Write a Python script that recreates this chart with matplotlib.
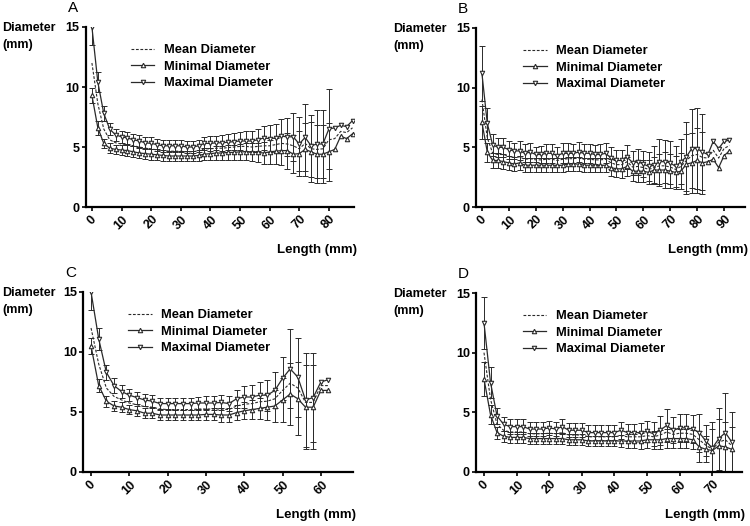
import numpy as np
import matplotlib.pyplot as plt

plt.rcParams['font.family'] = ['Liberation Sans', 'DejaVu Sans']

# ---------------------------------------------------------------------------
# DATA  (length in mm, diameters in mm)
# ---------------------------------------------------------------------------

# Panel A : 0..88 mm
A_len = np.arange(0, 89, 2)
A_mean = [12.0, 8.6, 6.5, 5.6, 5.35, 5.25, 5.2, 5.1, 5.0, 4.9, 4.85, 4.75, 4.7, 4.65, 4.65,
          4.65, 4.6, 4.6, 4.7, 4.85, 4.85, 4.9, 4.9, 4.95, 5.0, 5.05, 5.05, 5.0, 5.05, 5.1,
          5.1, 5.2, 5.3, 5.25, 5.1, 4.85, 5.3, 4.85, 4.8, 4.85, 5.6, 5.7, 6.3, 6.2, 6.6]
A_min = [9.3, 6.6, 5.3, 4.9, 4.8, 4.75, 4.7, 4.6, 4.5, 4.45, 4.4, 4.35, 4.3, 4.25, 4.25,
         4.25, 4.25, 4.25, 4.3, 4.4, 4.45, 4.5, 4.5, 4.55, 4.55, 4.6, 4.6, 4.55, 4.55, 4.5,
         4.6, 4.65, 4.7, 4.7, 4.4, 4.45, 4.8, 4.6, 4.4, 4.4, 4.6, 4.8, 5.9, 5.7, 6.1]
A_max = [15.0, 10.4, 7.8, 6.5, 6.0, 5.85, 5.75, 5.6, 5.5, 5.35, 5.3, 5.2, 5.1, 5.1, 5.1,
         5.1, 5.0, 5.0, 5.1, 5.3, 5.3, 5.35, 5.35, 5.4, 5.45, 5.5, 5.5, 5.5, 5.6, 5.75,
         5.7, 5.75, 5.9, 5.85, 5.85, 5.25, 5.8, 5.1, 5.25, 5.25, 6.5, 6.6, 6.8, 6.7, 7.2]
A_err_max = [1.5, 0.85, 0.6, 0.5, 0.5, 0.5, 0.5, 0.5, 0.5, 0.5, 0.5, 0.5, 0.5, 0.5, 0.5,
             0.5, 0.5, 0.5, 0.5, 0.55, 0.6, 0.6, 0.65, 0.65, 0.7, 0.75, 0.8, 0.85, 0.9, 1.0,
             1.1, 1.2, 1.4, 1.6, 2.0, 2.25, 2.8, 2.6, 2.8, 2.8, 3.3]
A_err_min = [0.6, 0.6, 0.4, 0.4, 0.4, 0.45, 0.45, 0.45, 0.45, 0.45, 0.45, 0.45, 0.45, 0.45, 0.45,
             0.45, 0.45, 0.45, 0.45, 0.5, 0.5, 0.55, 0.55, 0.6, 0.6, 0.65, 0.7, 0.75, 0.8, 0.9,
             1.0, 1.1, 1.2, 1.5, 1.6, 1.9, 2.2, 2.5, 2.4, 2.4, 2.4]

# Panel B : 0..92 mm
B_len = np.arange(0, 93, 2)
B_mean = [9.0, 5.8, 4.5, 4.4, 4.4, 4.25, 4.15, 4.2, 4.0, 4.05, 3.95, 3.95, 4.0, 4.0, 3.9,
          4.0, 4.05, 4.05, 4.1, 4.0, 4.0, 3.95, 3.95, 4.0, 3.7, 3.55, 3.55, 3.8, 3.35, 3.4,
          3.3, 3.15, 3.3, 3.45, 3.45, 3.35, 3.15, 3.4, 3.9, 4.3, 4.4, 4.15, 4.1, 4.75, 4.1,
          4.9, 5.15]
B_min = [7.1, 4.6, 3.9, 3.9, 3.8, 3.7, 3.6, 3.7, 3.5, 3.5, 3.5, 3.5, 3.5, 3.5, 3.5,
         3.5, 3.6, 3.6, 3.6, 3.5, 3.5, 3.5, 3.5, 3.5, 3.3, 3.2, 3.2, 3.4, 3.0, 3.0,
         3.0, 2.9, 3.1, 3.1, 3.1, 3.0, 2.9, 3.0, 3.6, 3.7, 3.9, 3.7, 3.8, 4.0, 3.3,
         4.3, 4.7]
B_max = [11.2, 7.0, 5.2, 5.0, 5.0, 4.8, 4.7, 4.7, 4.5, 4.6, 4.4, 4.4, 4.5, 4.5, 4.3,
         4.5, 4.5, 4.5, 4.6, 4.5, 4.5, 4.4, 4.4, 4.5, 4.1, 3.9, 3.9, 4.2, 3.7, 3.8,
         3.6, 3.4, 3.5, 3.8, 3.8, 3.7, 3.4, 3.8, 4.2, 4.9, 4.9, 4.6, 4.4, 5.5, 4.9,
         5.5, 5.6]
B_err_max = [2.3, 1.3, 0.9, 0.8, 0.8, 0.75, 0.7, 0.8, 0.75, 0.8, 0.65, 0.7, 0.8, 0.8, 0.75,
             0.85, 0.85, 0.8, 0.85, 0.8, 0.8, 0.8, 0.85, 0.85, 0.9, 0.9, 0.9, 1.0, 1.0, 1.1,
             1.1, 1.2, 1.6, 1.9, 1.8, 1.8, 1.7, 1.9, 2.9, 3.3, 3.4, 3.2]
B_err_min = [1.4, 0.8, 0.6, 0.6, 0.6, 0.6, 0.6, 0.6, 0.6, 0.6, 0.6, 0.6, 0.6, 0.6, 0.6,
             0.6, 0.6, 0.6, 0.6, 0.6, 0.6, 0.6, 0.6, 0.6, 0.7, 0.7, 0.75, 0.8, 0.8, 0.9,
             0.9, 1.0, 1.1, 1.3, 1.5, 1.4, 1.4, 1.5, 2.5, 2.5, 2.7, 2.6]

# Panel C : 0..62 mm
C_len = np.arange(0, 63, 2)
C_mean = [12.0, 9.0, 7.0, 6.3, 6.0, 5.75, 5.6, 5.45, 5.4, 5.25, 5.2, 5.2, 5.2, 5.2, 5.25,
          5.25, 5.25, 5.25, 5.2, 5.5, 5.65, 5.7, 5.85, 5.9, 6.1, 6.8, 7.4, 7.0, 5.8, 5.8,
          7.2, 7.2]
C_min = [10.5, 7.2, 5.9, 5.5, 5.4, 5.2, 5.1, 4.9, 4.9, 4.75, 4.75, 4.75, 4.75, 4.75, 4.75,
         4.8, 4.8, 4.75, 4.75, 4.95, 5.1, 5.2, 5.3, 5.4, 5.5, 6.0, 6.5, 6.1, 5.4, 5.4,
         6.8, 6.8]
C_max = [15.0, 11.1, 8.3, 7.2, 6.7, 6.4, 6.2, 6.0, 5.9, 5.7, 5.7, 5.7, 5.7, 5.7, 5.75,
         5.75, 5.75, 5.8, 5.7, 6.1, 6.25, 6.25, 6.4, 6.4, 6.8, 7.8, 8.6, 7.9, 6.0, 6.2,
         7.5, 7.7]
C_err_max = [1.5, 0.9, 0.65, 0.6, 0.55, 0.5, 0.5, 0.5, 0.5, 0.45, 0.45, 0.5, 0.5, 0.5, 0.5,
             0.55, 0.6, 0.65, 0.65, 0.75, 0.9, 1.0, 1.1, 1.3, 1.5, 1.8, 3.3, 3.3, 3.9, 3.7]
C_err_min = [0.7, 0.55, 0.45, 0.4, 0.4, 0.4, 0.4, 0.4, 0.4, 0.4, 0.4, 0.4, 0.4, 0.4, 0.4,
             0.45, 0.5, 0.55, 0.55, 0.6, 0.7, 0.8, 0.9, 1.1, 1.3, 1.8, 2.6, 3.05, 3.5, 3.5]

# Panel D : 0..76 mm
D_len = np.arange(0, 77, 2)
D_mean = [10.0, 6.1, 4.0, 3.5, 3.35, 3.35, 3.35, 3.2, 3.2, 3.2, 3.25, 3.2, 3.3, 3.1, 3.1,
          3.1, 2.95, 2.95, 2.95, 2.95, 2.95, 3.05, 2.95, 2.95, 2.95, 3.05, 2.95, 3.1, 3.35, 3.15,
          3.25, 3.25, 3.15, 2.7, 2.25, 1.9, 2.5, 2.7, 2.2]
D_min = [7.8, 4.8, 3.3, 3.0, 2.9, 2.9, 2.9, 2.8, 2.8, 2.8, 2.8, 2.8, 2.8, 2.7, 2.7,
         2.7, 2.6, 2.6, 2.6, 2.6, 2.6, 2.6, 2.6, 2.6, 2.6, 2.7, 2.7, 2.7, 2.8, 2.8,
         2.8, 2.8, 2.7, 2.1, 1.9, 1.8, 2.2, 2.1, 1.9]
D_max = [12.5, 7.5, 4.7, 4.0, 3.8, 3.8, 3.8, 3.6, 3.6, 3.6, 3.7, 3.6, 3.8, 3.5, 3.5,
         3.5, 3.3, 3.3, 3.3, 3.3, 3.3, 3.5, 3.3, 3.3, 3.3, 3.4, 3.2, 3.5, 3.9, 3.5,
         3.7, 3.7, 3.6, 3.3, 2.6, 2.0, 2.8, 3.3, 2.5]
D_err_max = [2.2, 1.3, 0.7, 0.6, 0.6, 0.6, 0.6, 0.6, 0.6, 0.6, 0.6, 0.6, 0.6, 0.6, 0.6,
             0.6, 0.6, 0.6, 0.6, 0.6, 0.6, 0.7, 0.7, 0.75, 0.8, 0.9, 1.0, 1.2, 1.4, 1.1,
             1.2, 1.2, 1.2, 1.6, 1.3, 2.2, 2.6, 3.3, 2.5]
D_err_min = [1.4, 0.8, 0.5, 0.45, 0.45, 0.45, 0.45, 0.45, 0.45, 0.45, 0.45, 0.45, 0.45, 0.45, 0.45,
             0.45, 0.45, 0.45, 0.45, 0.45, 0.45, 0.5, 0.55, 0.6, 0.65, 0.7, 0.75, 0.8, 0.8, 0.8,
             0.8, 0.8, 0.8, 1.3, 1.1, 1.8, 2.2, 2.1, 1.9]

panels = [
    # letter, length, mean, min, max, err_max, err_min, x ticks, xlim
    ("A", A_len, A_mean, A_min, A_max, A_err_max, A_err_min, range(0, 81, 10), (-2.0, 88.5)),
    ("B", B_len, B_mean, B_min, B_max, B_err_max, B_err_min, range(0, 91, 10), (-2.2, 97.8)),
    ("C", C_len, C_mean, C_min, C_max, C_err_max, C_err_min, range(0, 61, 10), (-2.1, 68.4)),
    ("D", D_len, D_mean, D_min, D_max, D_err_max, D_err_min, range(0, 71, 10), (-2.45, 79.1)),
]

# axes rectangles in pixels: left, top, right, bottom (figure 750 x 526)
W, H = 750, 526
boxes = [(86, 27, 354, 207), (476, 28, 745, 207), (83, 292, 353, 472), (476, 293, 742, 472)]

# ---------------------------------------------------------------------------
# PLOT
# ---------------------------------------------------------------------------

fig = plt.figure(figsize=(7.5, 5.26), dpi=100)
lc = "#2a2a2a"
fs = 9

for (letter, x, mean, mn, mx, emx, emn, xt, xl), (l, t, r, b) in zip(panels, boxes):
    ax = fig.add_axes([l / W, 1 - b / H, (r - l) / W, (b - t) / H])
    x = np.asarray(x)
    ne_max = len(emx)
    ne_min = len(emn)

    ax.errorbar(x[:ne_max], mx[:ne_max], yerr=emx, fmt="none", ecolor=lc,
                elinewidth=0.7, capsize=2.2, capthick=0.7, zorder=2)
    ax.errorbar(x[:ne_min], mn[:ne_min], yerr=emn, fmt="none", ecolor=lc,
                elinewidth=0.7, capsize=2.2, capthick=0.7, zorder=2)
    ax.plot(x, mean, "--", color=lc, lw=0.8, dashes=(2.5, 1.5), label="Mean Diameter", zorder=3)
    ax.plot(x, mn, "-", color=lc, lw=0.9, marker="^", ms=3.2, mfc="white", mec=lc,
            mew=0.8, label="Minimal Diameter", zorder=4)
    ax.plot(x, mx, "-", color=lc, lw=0.9, marker="v", ms=3.2, mfc="white", mec=lc,
            mew=0.8, label="Maximal Diameter", zorder=4)

    ax.set_xlim(*xl)
    ax.set_ylim(0, 15)
    ax.set_yticks([0, 5, 10, 15])
    ax.set_xticks(list(xt))
    for s in ("top", "right"):
        ax.spines[s].set_visible(False)
    for s in ("left", "bottom"):
        ax.spines[s].set_linewidth(1.6)
    ax.tick_params(length=3, width=1.2, pad=1.5, labelsize=fs)
    for lab in ax.get_yticklabels():
        lab.set_fontweight("bold")
    for lab in ax.get_xticklabels():
        lab.set_fontweight("bold")
        lab.set_rotation(45)
        lab.set_ha("center")
        lab.set_va("top")

    leg_x = 0.168 if letter in ("A", "C") else 0.176
    ax.legend(loc="upper left", bbox_to_anchor=(leg_x, 0.905), frameon=False,
              borderaxespad=0, borderpad=0, handlelength=1.8, handletextpad=0.75,
              labelspacing=0.35, prop={"weight": "bold", "size": fs + 0.3})

    # y label, panel letter, x label
    lx = 2 if letter in ("A", "C") else 393
    fig.text(lx / W, 1 - (t + 1) / H, "Diameter", ha="left", va="center",
             fontsize=fs, fontweight="bold")
    fig.text(lx / W, 1 - (t + 18) / H, "(mm)", ha="left", va="center",
             fontsize=fs, fontweight="bold")
    fig.text((l - 18) / W, 1 - (t - 19) / H, letter, ha="left", va="center", fontsize=11)
    fig.text((r + 3) / W, 1 - (b + 43) / H, "Length (mm)", ha="right", va="center",
             fontsize=fs + 0.5, fontweight="bold")

plt.savefig("out.png", dpi=100)
